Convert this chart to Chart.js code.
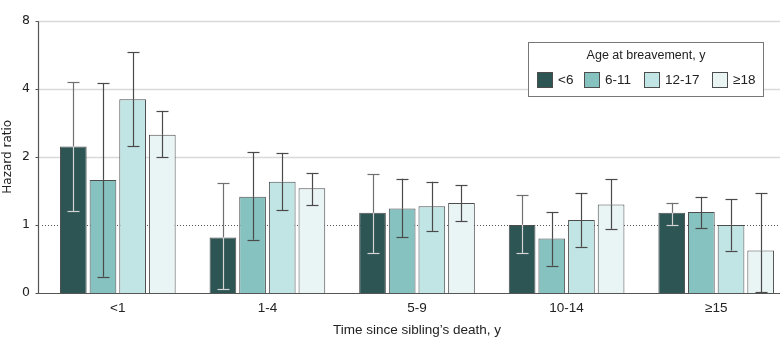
<!DOCTYPE html>
<html>
<head>
<meta charset="utf-8">
<script src="https://cdn.jsdelivr.net/npm/chart.js@4"></script>
<style>
  html, body { margin: 0; padding: 0; background: #fff; overflow: hidden; }
  #wrap { width: 791px; height: 348px; }
</style>
</head>
<body>
<div id="wrap"><canvas id="chartHazard" width="791" height="348"></canvas></div>
<script>
const timeLabels = ['<1', '1-4', '5-9', '10-14', '≥15'];
const ageLabels = ['<6', '6-11', '12-17', '≥18'];
const yTickValues = [0.5, 1, 2, 4, 8];
const yTickLabels = ['0', '1', '2', '4', '8'];

// hazard ratio + 95% CI
const hrUnder6 = [2.22, 0.88, 1.13, 1.00, 1.13];
const loUnder6 = [1.15, 0.52, 0.75, 0.75, 1.00];
const hiUnder6 = [4.27, 1.53, 1.67, 1.35, 1.25];

const hr6to11 = [1.58, 1.33, 1.18, 0.87, 1.14];
const lo6to11 = [0.59, 0.86, 0.88, 0.66, 0.97];
const hi6to11 = [4.22, 2.10, 1.60, 1.14, 1.33];

const hr12to17 = [3.59, 1.55, 1.21, 1.05, 1.00];
const lo12to17 = [2.22, 1.16, 0.94, 0.80, 0.77];
const hi12to17 = [5.78, 2.08, 1.55, 1.38, 1.30];

const hr18plus = [2.50, 1.45, 1.25, 1.23, 0.77];
const lo18plus = [1.99, 1.22, 1.04, 0.96, 0.50];
const hi18plus = [3.19, 1.69, 1.50, 1.59, 1.38];

const fillColors = ['#2c5554', '#86c2c0', '#c1e5e5', '#e9f4f4'];
const edgeColor = '#4d4d4d';
const textColor = '#222';

const serif = '"DejaVu Sans", sans-serif';
const sans = '"Liberation Sans", Arial, sans-serif';

// light gridlines, dotted reference line at 1, axis lines
const gridLines = {
  id: 'gridLines',
  beforeDatasetsDraw(chart) {
    const { ctx, chartArea, scales: { y } } = chart;
    const x0 = chartArea.left - 5;
    ctx.save();
    ctx.strokeStyle = '#d9d9d9';
    ctx.lineWidth = 1.5;
    [2, 4, 8].forEach(v => {
      const py = Math.round(y.getPixelForValue(v)) + 0.5;
      ctx.beginPath();
      ctx.moveTo(x0, py);
      ctx.lineTo(chartArea.right, py);
      ctx.stroke();
    });
    const p1 = Math.round(y.getPixelForValue(1)) + 0.5;
    ctx.strokeStyle = '#555';
    ctx.lineWidth = 1;
    ctx.setLineDash([1, 2]);
    ctx.beginPath();
    ctx.moveTo(x0 + 4, p1);
    ctx.lineTo(chartArea.right, p1);
    ctx.stroke();
    ctx.restore();
  },
  afterDatasetsDraw(chart) {
    const { ctx, chartArea, scales: { y } } = chart;
    const x0 = Math.round(chartArea.left - 5) + 0.5;
    const yb = Math.round(chartArea.bottom) + 0.5;
    ctx.save();
    ctx.strokeStyle = '#555';
    ctx.lineWidth = 1.2;
    ctx.beginPath();
    ctx.moveTo(x0, Math.round(chartArea.top) + 0.5);
    ctx.lineTo(x0, yb);
    ctx.lineTo(chartArea.right, yb);
    yTickValues.forEach(v => {
      const py = Math.round(y.getPixelForValue(v)) + 0.5;
      ctx.moveTo(x0 - 3, py);
      ctx.lineTo(x0, py);
    });
    ctx.stroke();
    ctx.restore();
  }
};

const errorBars = {
  id: 'errorBars',
  afterDatasetsDraw(chart) {
    const { ctx, scales: { y } } = chart;
    ctx.save();
    ctx.lineWidth = 1.2;
    chart.data.datasets.forEach((ds, i) => {
      const meta = chart.getDatasetMeta(i);
      meta.data.forEach((bar, j) => {
        const x = Math.round(bar.x) + 0.5;
        const top = y.getPixelForValue(ds.ciHigh[j]);
        const low = Math.min(y.getPixelForValue(ds.ciLow[j]), chart.chartArea.bottom - 1);
        const dark = '#4a4a4a';
        const light = i === 0 ? '#d4d4d4' : dark;
        const colorAt = py => (py > bar.y ? light : (i === 0 ? '#707070' : dark));
        const split = Math.max(top, Math.min(low, bar.y));
        ctx.strokeStyle = colorAt(top - 1);
        ctx.beginPath();
        ctx.moveTo(x, top);
        ctx.lineTo(x, split);
        ctx.stroke();
        ctx.strokeStyle = light;
        ctx.beginPath();
        ctx.moveTo(x, split);
        ctx.lineTo(x, low);
        ctx.stroke();
        [top, low].forEach(py => {
          const yy = Math.round(py) + 0.5;
          ctx.strokeStyle = colorAt(py);
          ctx.beginPath();
          ctx.moveTo(x - 6, yy);
          ctx.lineTo(x + 6, yy);
          ctx.stroke();
        });
      });
    });
    ctx.restore();
  }
};

const boxLegend = {
  id: 'boxLegend',
  afterDraw(chart) {
    const ctx = chart.ctx;
    const bx = 528.5, by = 42.5, bw = 235, bh = 54;
    ctx.save();
    ctx.fillStyle = '#fff';
    ctx.fillRect(bx, by, bw, bh);
    ctx.strokeStyle = '#777';
    ctx.lineWidth = 1;
    ctx.strokeRect(bx, by, bw, bh);
    ctx.fillStyle = textColor;
    ctx.font = '12.5px ' + sans;
    ctx.textAlign = 'center';
    ctx.textBaseline = 'middle';
    ctx.fillText('Age at breavement, y', bx + bw / 2, 56);
    ctx.font = '13.5px ' + sans;
    const swatchX = [537, 584, 644, 712];
    ctx.textAlign = 'left';
    chart.data.datasets.forEach((ds, i) => {
      ctx.fillStyle = ds.backgroundColor;
      ctx.fillRect(swatchX[i] + 0.5, 72.5, 15, 15);
      ctx.strokeStyle = edgeColor;
      ctx.strokeRect(swatchX[i] + 0.5, 72.5, 15, 15);
      ctx.fillStyle = textColor;
      ctx.fillText(ds.label, swatchX[i] + 21, 80.5);
    });
    ctx.restore();
  }
};

const ctxHazard = document.getElementById('chartHazard').getContext('2d');
const chartHazard = new Chart(ctxHazard, {
  type: 'bar',
  data: {
    labels: timeLabels,
    datasets: [
      { label: ageLabels[0], data: hrUnder6, ciLow: loUnder6, ciHigh: hiUnder6 },
      { label: ageLabels[1], data: hr6to11, ciLow: lo6to11, ciHigh: hi6to11 },
      { label: ageLabels[2], data: hr12to17, ciLow: lo12to17, ciHigh: hi12to17 },
      { label: ageLabels[3], data: hr18plus, ciLow: lo18plus, ciHigh: hi18plus }
    ].map((ds, i) => Object.assign(ds, {
      backgroundColor: fillColors[i],
      borderColor: edgeColor,
      borderWidth: 1,
      borderSkipped: 'bottom',
      barPercentage: 0.9,
      categoryPercentage: 0.793
    }))
  },
  options: {
    responsive: false,
    animation: false,
    layout: { padding: { top: 18, right: 0, left: 0, bottom: 0 } },
    plugins: {
      legend: { display: false },
      tooltip: { enabled: false }
    },
    scales: {
      x: {
        grid: { display: false, drawTicks: false },
        border: { display: false },
        ticks: { color: textColor, font: { family: sans, size: 13.5 }, padding: 7 },
        title: {
          display: true,
          text: 'Time since sibling\u2019s death, y',
          color: textColor,
          font: { family: sans, size: 13.5 },
          padding: { top: 0, bottom: 10 }
        },
        afterFit: scale => { scale.height = 55; }
      },
      y: {
        type: 'logarithmic',
        min: 0.5,
        max: 8,
        grid: { display: false, drawTicks: false },
        border: { display: false },
        afterBuildTicks: scale => { scale.ticks = yTickValues.map(v => ({ value: v })); },
        ticks: {
          color: textColor,
          font: { family: serif, size: 12.5 },
          padding: 13,
          callback: v => yTickLabels[yTickValues.indexOf(v)]
        },
        title: {
          display: true,
          text: 'Hazard ratio',
          color: textColor,
          font: { family: serif, size: 12 },
          padding: { top: 1, bottom: 0 }
        },
        afterFit: scale => { scale.width = 43; }
      }
    }
  },
  plugins: [gridLines, errorBars, boxLegend]
});
</script>
</body>
</html>
